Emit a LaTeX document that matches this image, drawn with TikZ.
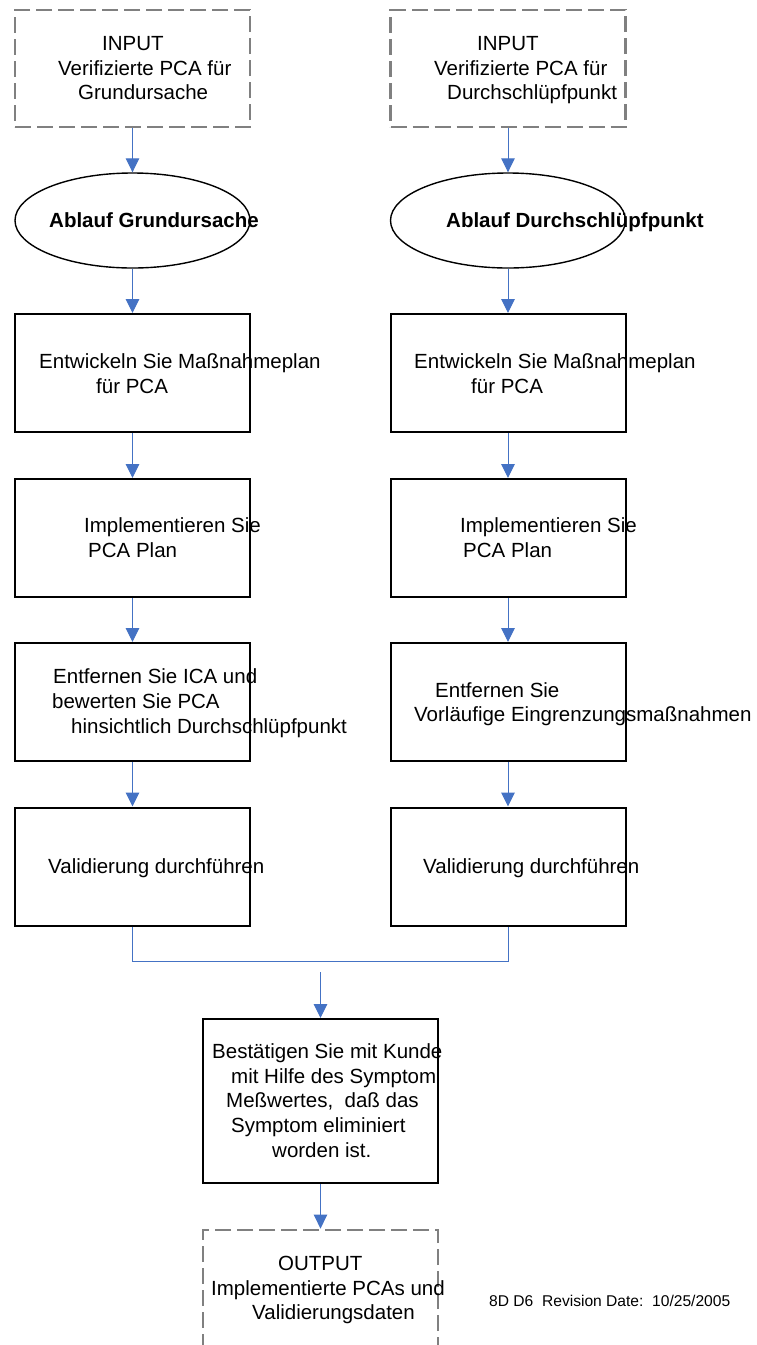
\documentclass[tikz,border=0pt]{standalone}
\usepackage{fontspec}
\setmainfont{Liberation Sans}
\usetikzlibrary{arrows.meta,shapes.geometric}
\definecolor{flowblue}{RGB}{68,114,196}
\definecolor{dashgray}{RGB}{128,128,128}

% one line of box text, placed by its left end and baseline
\newcommand{\boxline}[4]{\node[txt] (#1) at (#2,#3) {#4};}

\begin{document}
\begin{tikzpicture}[x=1pt,y=-1pt,
  iobox/.style={draw=dashgray,line width=2.8pt,dash pattern=on 16pt off 6pt,
    inner sep=0pt,minimum width=235pt},
  stepbox/.style={draw=black,line width=2pt,inner sep=0pt,
    minimum width=235pt,minimum height=118pt},
  flowoval/.style={ellipse,draw=black,line width=1.4pt,inner sep=0pt,
    minimum width=235pt,minimum height=95pt},
  txt/.style={inner sep=0pt,anchor=base west,font=\fontsize{20.5}{24}\selectfont},
  bold/.style={font=\fontsize{20.5}{24}\selectfont\bfseries},
  flow/.style={draw=flowblue,line width=1pt,-{Triangle[width=13.5pt,length=14pt]}},
  link/.style={draw=flowblue,line width=1pt}
]
\useasboundingbox (0,0) rectangle (757,1345);

% --- left column: root cause ---
\node[iobox,minimum height=117pt] (lin) at (132.5,68.5) {};
\node[flowoval] (lov) at (132.5,220.5) {};
\node[stepbox] (lplan) at (132.5,373) {};
\node[stepbox] (limpl) at (132.5,538) {};
\node[stepbox] (lrem) at (132.5,702) {};
\node[stepbox] (lval) at (132.5,866.5) {};

% --- right column: escape point ---
\node[iobox,minimum height=117pt] (rin) at (508,68.5) {};
\node[flowoval] (rov) at (508,220.5) {};
\node[stepbox] (rplan) at (508,373) {};
\node[stepbox] (rimpl) at (508,538) {};
\node[stepbox] (rrem) at (508,702) {};
\node[stepbox] (rval) at (508,866.5) {};

% --- joint steps ---
\node[stepbox,minimum height=164pt] (conf) at (320.5,1101) {};
\node[iobox,minimum height=130pt] (out) at (320.5,1295) {};
\coordinate (joinin) at (320.5,972);

% --- texts ---
\boxline{lin1}{102}{50}{INPUT}
\boxline{lin2}{58}{75}{Verifizierte PCA für}
\boxline{lin3}{78}{99}{Grundursache}
\boxline{rin1}{477}{50}{INPUT}
\boxline{rin2}{434}{75}{Verifizierte PCA für}
\boxline{rin3}{447}{99}{Durchschlüpfpunkt}

\node[txt,bold] (lovt) at (49,227) {Ablauf Grundursache};
\node[txt,bold] (rovt) at (446,227) {Ablauf Durchschlüpfpunkt};

\boxline{lplan1}{39}{368}{Entwickeln Sie Maßnahmeplan}
\boxline{lplan2}{96}{393}{für PCA}
\boxline{rplan1}{414}{368}{Entwickeln Sie Maßnahmeplan}
\boxline{rplan2}{471}{393}{für PCA}

\boxline{limpl1}{84}{532}{Implementieren Sie}
\boxline{limpl2}{88}{557}{PCA Plan}
\boxline{rimpl1}{460}{532}{Implementieren Sie}
\boxline{rimpl2}{463}{557}{PCA Plan}

\boxline{lrem1}{53}{683}{Entfernen Sie ICA und}
\boxline{lrem2}{52}{708}{bewerten Sie PCA}
\boxline{lrem3}{71}{733}{hinsichtlich Durchschlüpfpunkt}
\boxline{rrem1}{435}{697}{Entfernen Sie}
\boxline{rrem2}{414}{721}{Vorläufige Eingrenzungsmaßnahmen}

\boxline{lval1}{48}{873}{Validierung durchführen}
\boxline{rval1}{423}{873}{Validierung durchführen}

\boxline{conf1}{212}{1058}{Bestätigen Sie mit Kunde}
\boxline{conf2}{231}{1083}{mit Hilfe des Symptom}
\boxline{conf3}{226}{1107}{Meßwertes,\ \ daß das}
\boxline{conf4}{231}{1132}{Symptom eliminiert}
\boxline{conf5}{272}{1157}{worden ist.}

\boxline{out1}{278}{1270}{OUTPUT}
\boxline{out2}{211}{1295}{Implementierte PCAs und}
\boxline{out3}{252}{1319}{Validierungsdaten}

\node[inner sep=0pt,anchor=base west,font=\fontsize{15.6}{18}\selectfont] (rev)
  at (489,1306) {8D D6\ \ Revision Date:\ \ 10/25/2005};

% --- connectors ---
\draw[flow] (lin.south) -- (lov.north);
\draw[flow] (lov.south) -- (lplan.north);
\draw[flow] (lplan.south) -- (limpl.north);
\draw[flow] (limpl.south) -- (lrem.north);
\draw[flow] (lrem.south) -- (lval.north);

\draw[flow] (rin.south) -- (rov.north);
\draw[flow] (rov.south) -- (rplan.north);
\draw[flow] (rplan.south) -- (rimpl.north);
\draw[flow] (rimpl.south) -- (rrem.north);
\draw[flow] (rrem.south) -- (rval.north);

\draw[link] (lval.south) -- ++(0,35) -| (rval.south);
\draw[flow] (joinin) -- (conf.north);
\draw[flow] (conf.south) -- (out.north);
\end{tikzpicture}
\end{document}
